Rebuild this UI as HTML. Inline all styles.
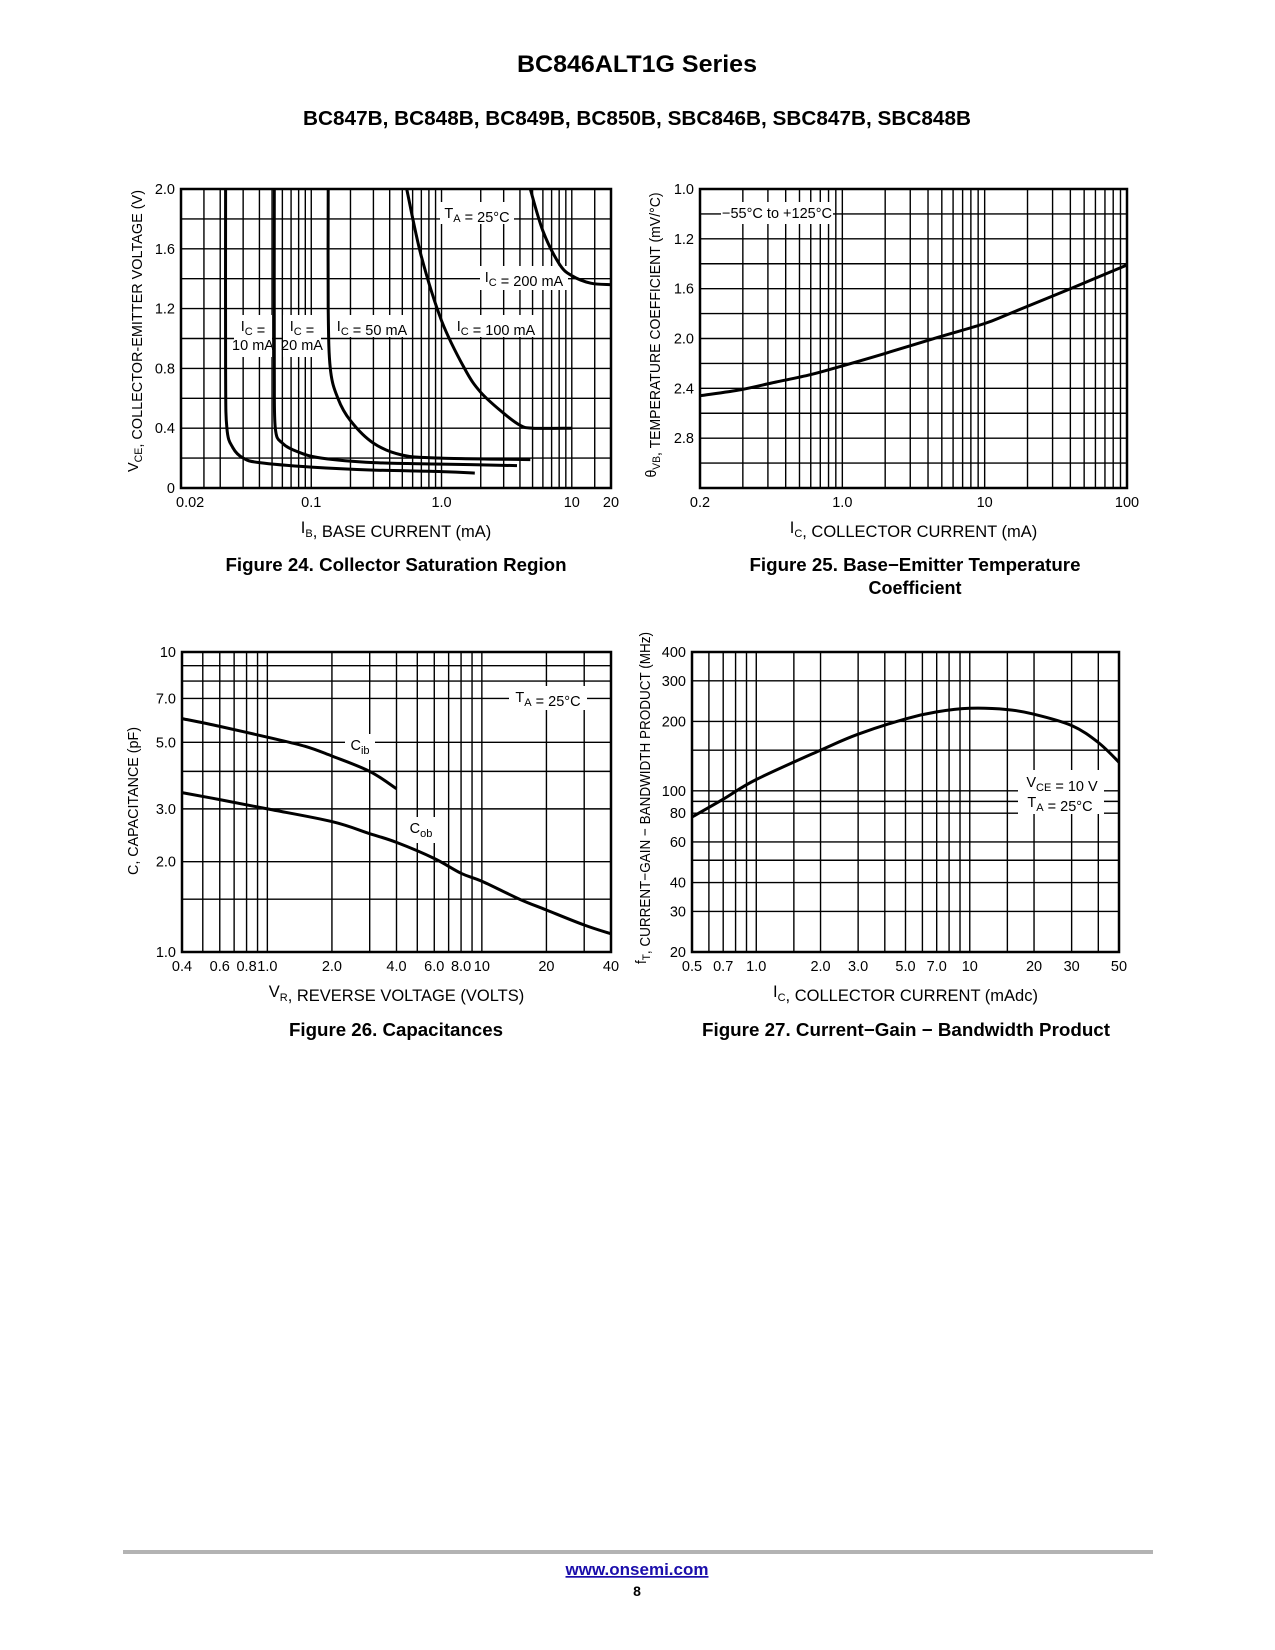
<!DOCTYPE html>
<html><head><meta charset="utf-8"><style>
html,body{margin:0;padding:0;background:#fff;}
svg{display:block;font-family:"Liberation Sans Narrow","Liberation Sans",sans-serif;}
.t{font-family:"Liberation Sans",sans-serif;font-weight:bold;}
</style></head><body>
<svg id="page" width="1275" height="1650" viewBox="0 0 1275 1650" xmlns="http://www.w3.org/2000/svg">
<text class="t" x="637" y="72" font-size="24" text-anchor="middle" textLength="240" lengthAdjust="spacingAndGlyphs">BC846ALT1G Series</text>
<text class="t" x="637" y="125" font-size="20" text-anchor="middle" textLength="668" lengthAdjust="spacingAndGlyphs">BC847B, BC848B, BC849B, BC850B, SBC846B, SBC847B, SBC848B</text>
<text class="t" x="396" y="571" font-size="18" text-anchor="middle" textLength="341" lengthAdjust="spacingAndGlyphs">Figure 24. Collector Saturation Region</text>
<text class="t" x="915" y="571" font-size="18" text-anchor="middle" textLength="331" lengthAdjust="spacingAndGlyphs">Figure 25. Base−Emitter Temperature</text>
<text class="t" x="915" y="594" font-size="18" text-anchor="middle">Coefficient</text>
<text class="t" x="396" y="1036" font-size="18" text-anchor="middle" textLength="214" lengthAdjust="spacingAndGlyphs">Figure 26. Capacitances</text>
<text class="t" x="906" y="1036" font-size="18" text-anchor="middle" textLength="408" lengthAdjust="spacingAndGlyphs">Figure 27. Current−Gain − Bandwidth Product</text>
<rect x="123" y="1550" width="1030" height="4" fill="#b3b3b3"/>
<a><text class="t" x="637" y="1575" font-size="17" fill="#1a0dab" text-anchor="middle" text-decoration="underline">www.onsemi.com</text></a>
<text class="t" x="637" y="1596" font-size="14" text-anchor="middle">8</text>
<g id="charts"></g>
</svg>
<script>
// ---------- Figure 24 data ----------
const f24_ic10_x = [0.022,0.022,0.0225,0.025,0.03,0.04,0.1,0.3,1,1.8];
const f24_ic10_y = [2.0,0.8,0.4,0.27,0.2,0.17,0.14,0.12,0.11,0.1];
const f24_ic20_x = [0.052,0.052,0.053,0.06,0.08,0.12,0.3,1,3.8];
const f24_ic20_y = [2.0,0.8,0.4,0.3,0.24,0.2,0.17,0.16,0.15];
const f24_ic50_x = [0.135,0.135,0.14,0.16,0.2,0.3,0.5,1,4.8];
const f24_ic50_y = [2.0,1.2,0.8,0.6,0.45,0.3,0.22,0.2,0.19];
const f24_ic100_x = [0.54,0.7,1,1.5,2,3,4,5,10];
const f24_ic100_y = [2.0,1.55,1.12,0.8,0.64,0.5,0.42,0.4,0.4];
const f24_ic200_x = [4.8,6,8,10,14,20];
const f24_ic200_y = [2.0,1.72,1.5,1.42,1.37,1.36];
const f24_xtick_vals = [0.01,0.1,1,10,20];
const f24_xtick_text = ["0.02","0.1","1.0","10","20"];
const f24_ytick_vals = [0,0.4,0.8,1.2,1.6,2.0];
const f24_ytick_text = ["0","0.4","0.8","1.2","1.6","2.0"];
// ---------- Figure 25 data ----------
const f25_x = [0.1,0.195,0.34,0.6,1,2,4.7,10,15,40,100];
const f25_y = [2.46,2.41,2.35,2.29,2.22,2.12,1.99,1.88,1.80,1.60,1.41];
const f25_xtick_vals = [0.1,1,10,100];
const f25_xtick_text = ["0.2","1.0","10","100"];
const f25_ytick_vals = [0.8,1.2,1.6,2.0,2.4,2.8];
const f25_ytick_text = ["1.0","1.2","1.6","2.0","2.4","2.8"];
// ---------- Figure 26 data ----------
const f26_cib_x = [0.4,0.6,1,1.5,2,3,4];
const f26_cib_y = [6.0,5.65,5.2,4.85,4.5,4.0,3.5];
const f26_cob_x = [0.4,0.6,1,2,3,4,6,8,10,15,20,30,40];
const f26_cob_y = [3.4,3.22,3.0,2.72,2.48,2.32,2.05,1.83,1.72,1.5,1.38,1.23,1.15];
const f26_xtick_vals = [0.4,0.6,0.8,1,2,4,6,8,10,20,40];
const f26_xtick_text = ["0.4","0.6","0.8","1.0","2.0","4.0","6.0","8.0","10","20","40"];
const f26_ytick_vals = [1,2,3,5,7,10];
const f26_ytick_text = ["1.0","2.0","3.0","5.0","7.0","10"];
// ---------- Figure 27 data ----------
const f27_x = [0.5,0.7,1,2,3,5,7,10,15,20,30,40,50];
const f27_y = [77,92,112,150,176,205,220,228,225,215,192,162,133];
const f27_xtick_vals = [0.5,0.7,1,2,3,5,7,10,20,30,50];
const f27_xtick_text = ["0.5","0.7","1.0","2.0","3.0","5.0","7.0","10","20","30","50"];
const f27_ytick_vals = [20,30,40,60,80,100,200,300,400];
const f27_ytick_text = ["20","30","40","60","80","100","200","300","400"];

const NS="http://www.w3.org/2000/svg";
const root=document.getElementById('charts');
function mk(tag,attrs,parent){const e=document.createElementNS(NS,tag);for(const k in attrs)e.setAttribute(k,attrs[k]);(parent||root).appendChild(e);return e;}
function decadeGrid(lo,hi,extra){const v=[];for(let d=Math.floor(Math.log10(lo))-1;d<=Math.ceil(Math.log10(hi));d++){for(let m=1;m<10;m++){const x=m*Math.pow(10,d);if(x>lo*1.0001&&x<hi*0.9999)v.push(x);}}return v.concat(extra||[]);}
function linScale(a,b,p0,p1){return v=>p0+(v-a)/(b-a)*(p1-p0);}
function logScale(a,b,p0,p1){return v=>p0+(Math.log10(v)-Math.log10(a))/(Math.log10(b)-Math.log10(a))*(p1-p0);}
function smooth(pts){let d=`M${pts[0][0].toFixed(1)},${pts[0][1].toFixed(1)}`;for(let i=0;i<pts.length-1;i++){const p0=pts[i-1]||pts[i],p1=pts[i],p2=pts[i+1],p3=pts[i+2]||p2;const t=0.17;const c1=[p1[0]+(p2[0]-p0[0])*t,p1[1]+(p2[1]-p0[1])*t],c2=[p2[0]-(p3[0]-p1[0])*t,p2[1]-(p3[1]-p1[1])*t];d+=`C${c1[0].toFixed(1)},${c1[1].toFixed(1)} ${c2[0].toFixed(1)},${c2[1].toFixed(1)} ${p2[0].toFixed(1)},${p2[1].toFixed(1)}`;}return d;}

function chart(o){
  const g=mk('g',{});
  
  
  o.xg.forEach(v=>{const x=o.sx(v);const l=mk('line',{x1:x,x2:x,y1:o.T,y2:o.B,stroke:'#000','stroke-width':1.4},g);
    
    });
  o.yg.forEach(v=>{const y=o.sy(v);const l=mk('line',{x1:o.L,x2:o.R,y1:y,y2:y,stroke:'#000','stroke-width':1.4},g);
    
    });
  // annotation backgrounds: [cx, top, width, height]
  o.ann.forEach(a=>{const r=mk('rect',{x:a[0]-a[2]/2,y:a[1],width:a[2],height:a[3],fill:'#fff'},g);
    
    });
  o.series.forEach(s=>{const pts=s.x.map((v,i)=>[o.sx(v),o.sy(s.y[i])]);const p=mk('path',{d:smooth(pts),fill:'none',stroke:'#000','stroke-width':3,'stroke-linecap':'butt'},g);
    
    });
  const b=mk('rect',{x:o.L,y:o.T,width:o.R-o.L,height:o.B-o.T,fill:'none',stroke:'#000','stroke-width':2.5},g);
  
  
  o.xt.forEach((v,i)=>{let x=o.sx(v),anc='middle';if(i===0&&o.firstStart){x=o.L-5;anc='start';}
    const t=mk('text',{x:x,y:o.B+19,'font-size':14.5,'text-anchor':anc},g);t.textContent=o.xtt[i];
    
    });
  o.yt.forEach((v,i)=>{const t=mk('text',{x:o.L-6,y:o.sy(v)+5,'font-size':14.5,'text-anchor':'end'},g);t.textContent=o.ytt[i];
    
    });
  const xt=mk('text',{x:(o.L+o.R)/2,y:o.B+45,'font-size':16.5,'text-anchor':'middle'},g);xt.innerHTML=o.xtitle;
  
  
  const yt=mk('text',{x:0,y:0,'font-size':15,'text-anchor':'middle',textLength:o.ylen,lengthAdjust:'spacingAndGlyphs',transform:`translate(${o.ytx},${o.yty}) rotate(-90)`},g);yt.innerHTML=o.ytitle;
  
  
  o.labels.forEach(a=>{const t=mk('text',{x:a[0],y:a[1],'font-size':14.5,'text-anchor':'middle'},g);t.innerHTML=a[2];
    
    });
}
const sub=s=>`<tspan font-size="11" dy="4">${s}</tspan><tspan dy="-4"></tspan>`;

// Figure 24
{const L=181,R=611,T=189,B=488;
chart({name:'figure-24-chart',L,R,T,B,sx:logScale(0.01,20,L,R),sy:linScale(0,2,B,T),
 xg:decadeGrid(0.01,20,[0.015,15]),yg:[0.2,0.4,0.6,0.8,1,1.2,1.4,1.6,1.8],
 xt:f24_xtick_vals,xtt:f24_xtick_text,yt:f24_ytick_vals,ytt:f24_ytick_text,firstStart:true,
 series:[{name:'ic-10ma-curve',x:f24_ic10_x,y:f24_ic10_y},{name:'ic-20ma-curve',x:f24_ic20_x,y:f24_ic20_y},{name:'ic-50ma-curve',x:f24_ic50_x,y:f24_ic50_y},{name:'ic-100ma-curve',x:f24_ic100_x,y:f24_ic100_y},{name:'ic-200ma-curve',x:f24_ic200_x,y:f24_ic200_y}],
 ann:[[477,202,74,22],[524,266,88,24],[253,315,38,42],[302,315,38,42],[372,315,78,22],[496,315,88,22]],
 labels:[[477,218,'T'+sub('A')+' = 25°C','ta-label'],[524,282,'I'+sub('C')+' = 200 mA','ic-200ma-label'],[253,331,'I'+sub('C')+' =','ic-10ma-label'],[253,350,'10 mA','ic-10ma-label-2'],[302,331,'I'+sub('C')+' =','ic-20ma-label'],[302,350,'20 mA','ic-20ma-label-2'],[372,331,'I'+sub('C')+' = 50 mA','ic-50ma-label'],[496,331,'I'+sub('C')+' = 100 mA','ic-100ma-label']],
 xtitle:'I'+sub('B')+', BASE CURRENT (mA)',ytitle:'V'+sub('CE')+', COLLECTOR-EMITTER VOLTAGE (V)',ylen:282,ytx:138,yty:331});}
// Figure 25
{const L=700,R=1127,T=189,B=488;
chart({name:'figure-25-chart',L,R,T,B,sx:logScale(0.1,100,L,R),sy:linScale(0.8,3.2,T,B),
 xg:decadeGrid(0.1,100),yg:[1.0,1.2,1.4,1.6,1.8,2.0,2.2,2.4,2.6,2.8,3.0],
 xt:f25_xtick_vals,xtt:f25_xtick_text,yt:f25_ytick_vals,ytt:f25_ytick_text,firstStart:false,
 series:[{name:'temp-coefficient-curve',x:f25_x,y:f25_y}],
 ann:[[777,202,112,22]],
 labels:[[777,218,'−55°C to +125°C','temperature-range-label']],
 xtitle:'I'+sub('C')+', COLLECTOR CURRENT (mA)',ytitle:'θ'+sub('VB')+', TEMPERATURE COEFFICIENT (mV/°C)',ylen:285,ytx:656,yty:335});}
// Figure 26
{const L=182,R=611,T=652,B=952;
chart({name:'figure-26-chart',L,R,T,B,sx:logScale(0.4,40,L,R),sy:logScale(1,10,B,T),
 xg:[0.5,0.6,0.7,0.8,0.9,1,2,3,4,5,6,7,8,9,10,20,30],yg:[1.5,2,3,4,5,7,8,9],
 xt:f26_xtick_vals,xtt:f26_xtick_text,yt:f26_ytick_vals,ytt:f26_ytick_text,firstStart:false,
 series:[{name:'cib-curve',x:f26_cib_x,y:f26_cib_y},{name:'cob-curve',x:f26_cob_x,y:f26_cob_y}],
 ann:[[548,686,78,24],[360,734,30,26],[421,817,32,26]],
 labels:[[548,702,'T'+sub('A')+' = 25°C','ta-label'],[360,750,'C'+sub('ib'),'cib-label'],[421,833,'C'+sub('ob'),'cob-label']],
 xtitle:'V'+sub('R')+', REVERSE VOLTAGE (VOLTS)',ytitle:'C, CAPACITANCE (pF)',ylen:148,ytx:138,yty:801});}
// Figure 27
{const L=692,R=1119,T=652,B=952;
chart({name:'figure-27-chart',L,R,T,B,sx:logScale(0.5,50,L,R),sy:logScale(20,400,B,T),
 xg:[0.6,0.7,0.8,0.9,1,1.5,2,3,4,5,6,7,8,9,10,15,20,30,40],yg:[30,40,50,60,80,90,100,150,200,300],
 xt:f27_xtick_vals,xtt:f27_xtick_text,yt:f27_ytick_vals,ytt:f27_ytick_text,firstStart:false,
 series:[{name:'ft-curve',x:f27_x,y:f27_y}],
 ann:[[1061,770,86,44]],
 labels:[[1062,787,'V'+sub('CE')+' = 10 V','vce-label'],[1060,807,'T'+sub('A')+' = 25°C','ta-label']],
 xtitle:'I'+sub('C')+', COLLECTOR CURRENT (mAdc)',ytitle:'f'+sub('T')+', CURRENT−GAIN − BANDWIDTH PRODUCT (MHz)',ylen:332,ytx:646,yty:798});}
</script>
</body></html>
